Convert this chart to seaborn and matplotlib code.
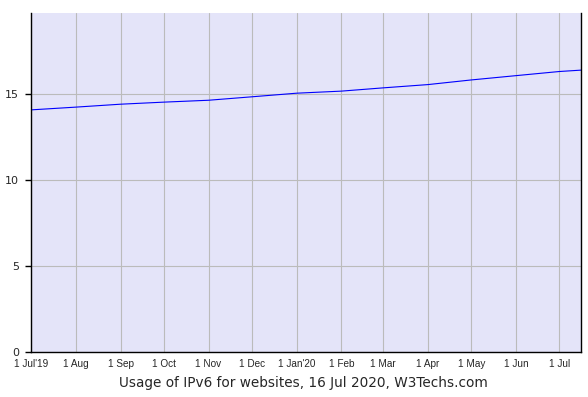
import matplotlib
matplotlib.use("Agg")
import matplotlib.pyplot as plt
import seaborn as sns
import pandas as pd

dates = ["2019-07-01", "2019-08-01", "2019-09-01", "2019-10-01", "2019-11-01",
         "2019-12-01", "2020-01-01", "2020-02-01", "2020-03-01", "2020-04-01",
         "2020-05-01", "2020-06-01", "2020-07-01", "2020-07-16"]
usage = [14.07, 14.23, 14.40, 14.52, 14.63, 14.83, 15.04, 15.16, 15.35, 15.54,
         15.81, 16.06, 16.30, 16.38]
tick_dates = ["2019-07-01", "2019-08-01", "2019-09-01", "2019-10-01", "2019-11-01",
              "2019-12-01", "2020-01-01", "2020-02-01", "2020-03-01", "2020-04-01",
              "2020-05-01", "2020-06-01", "2020-07-01"]
tick_labels = ["1 Jul'19", "1 Aug", "1 Sep", "1 Oct", "1 Nov", "1 Dec", "1 Jan'20",
               "1 Feb", "1 Mar", "1 Apr", "1 May", "1 Jun", "1 Jul"]
y_ticks = [0, 5, 10, 15]
title = "Usage of IPv6 for websites, 16 Jul 2020, W3Techs.com"

sns.set_style("white")
plt.rcParams['font.family'] = ['DejaVu Sans']

df = pd.DataFrame({"date": pd.to_datetime(dates), "usage": usage})

fig = plt.figure(figsize=(5.88, 3.97), dpi=100)
ax = fig.add_axes([31/588, 45/397, 550/588, 339/397])
ax.set_facecolor("#e4e4f9")

sns.lineplot(data=df, x="date", y="usage", ax=ax, color="#0000ff", linewidth=0.8)

ax.set_xlim(pd.Timestamp("2019-07-01"), pd.Timestamp("2020-07-16"))
ax.set_ylim(0, 19.7)
ax.set_xticks(pd.to_datetime(tick_dates))
ax.set_xticklabels(tick_labels, fontsize=7.2, family=["Liberation Sans"])
ax.set_yticks(y_ticks)
ax.set_yticklabels([str(v) for v in y_ticks], fontsize=8)
ax.tick_params(axis="x", length=0, pad=5)
ax.tick_params(axis="y", length=4.5, width=1, color="black", pad=4, direction="out", left=True)
ax.grid(True, color="#bbbbbb", linewidth=0.8)
ax.set_axisbelow(True)
for s in ["left", "bottom", "right"]:
    ax.spines[s].set_visible(True)
    ax.spines[s].set_color("black")
    ax.spines[s].set_linewidth(1)
ax.spines["top"].set_visible(False)
ax.set_xlabel("")
ax.set_ylabel("")

fig.text(303/588, 1 - 383/397, title, ha="center", va="center", fontsize=9.8)

fig.savefig("out.png", dpi=100)
